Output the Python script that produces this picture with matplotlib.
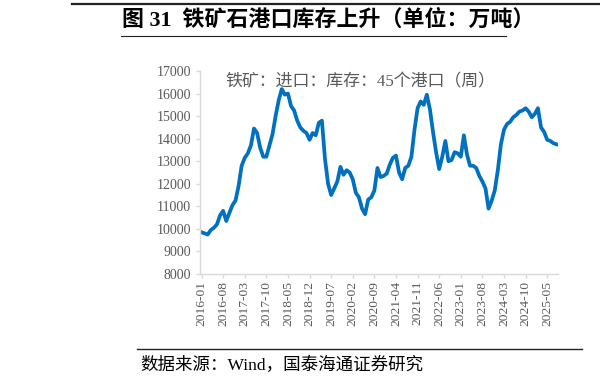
import numpy as np
import matplotlib
matplotlib.use('Agg')
import matplotlib.pyplot as plt
from matplotlib.lines import Line2D

plt.rcParams['font.family'] = ['Liberation Serif', 'Noto Sans CJK SC']

# 月度读数（万吨），2016-01 起
months = [f'{2016 + i // 12}-{i % 12 + 1:02d}' for i in range(116)]
inventory = [
    9850, 9800, 9750, 9950, 10050, 10200, 10600, 10800, 10350, 10700,
    11050, 11250, 11900, 12800, 13150, 13350, 13700, 14450, 14250, 13600,
    13200, 13200, 13700, 14200, 15000, 15700, 16200, 15950, 16000, 15450,
    15250, 14800, 14500, 14350, 14250, 13950, 14250, 14150, 14700, 14800,
    13100, 12000, 11500, 11800, 12100, 12750, 12400, 12600, 12500, 12200,
    11600, 11400, 10900, 10650, 11300, 11400, 11700, 12700, 12300, 12350,
    12450, 12850, 13150, 13250, 12500, 12200, 12700, 12800, 13200, 14400,
    15350, 15650, 15500, 15950, 15300, 14300, 13400, 12650, 13200, 13900,
    13000, 13050, 13400, 13350, 13200, 14150, 13300, 12800, 12800, 12700,
    12350, 12100, 11800, 10900, 11250, 11700, 12600, 13750, 14400, 14650,
    14750, 14950, 15050, 15200, 15250, 15350, 15200, 14950, 15100, 15350,
    14500, 14300, 13950, 13900, 13800, 13750,
]
tick_step = 7
series_label = '铁矿：进口：库存：45个港口（周）'
title = '图 31  铁矿石港口库存上升（单位：万吨）'
source = '数据来源：Wind，国泰海通证券研究'

fig = plt.figure(figsize=(6, 3.86), dpi=100)
ax = fig.add_axes([200 / 600, 1 - 274 / 386, 358 / 600, 203 / 386])

x = np.arange(len(inventory))
ax.plot(x, inventory, color='#0070C0', lw=2.7, solid_joinstyle='round')

ax.set_ylim(8000, 17000)
ax.set_yticks(range(8000, 17001, 1000))
ax.set_xlim(-0.5, len(inventory) - 0.5)
ticks = list(range(0, len(inventory), tick_step))
ax.set_xticks(ticks)
ax.set_xticklabels([months[i] for i in ticks], rotation=90)

for s in ['top', 'right']:
    ax.spines[s].set_visible(False)
for s in ['left', 'bottom']:
    ax.spines[s].set_color('#d9d9d9')
    ax.spines[s].set_linewidth(1.0)
ax.tick_params(axis='both', colors='#d9d9d9', labelcolor='#595959',
               labelsize=10, length=3, width=1.0)
ax.tick_params(axis='x', labelsize=9.7, pad=2)

ax.text(0.07, 0.985, series_label, transform=ax.transAxes, fontsize=12.2,
        color='#595959', va='top', ha='left')

# 标题与来源
fig.text(122 / 600, 1 - 20 / 386, title, fontsize=15.8, fontweight='bold',
         va='center', ha='left', color='black')
fig.text(140 / 600, 1 - 365 / 386, source, fontsize=12.6, va='center',
         ha='left', color='black')

fig.add_artist(Line2D([72 / 600, 1.0], [1 - 4 / 386] * 2, color='#222222', lw=1.6))
fig.add_artist(Line2D([121 / 600, 506 / 600], [1 - 36 / 386] * 2, color='#222222', lw=0.8))
fig.add_artist(Line2D([137 / 600, 582 / 600], [1 - 349 / 386] * 2, color='#222222', lw=1.0))

fig.savefig('out.png', dpi=100)
plt.close(fig)
